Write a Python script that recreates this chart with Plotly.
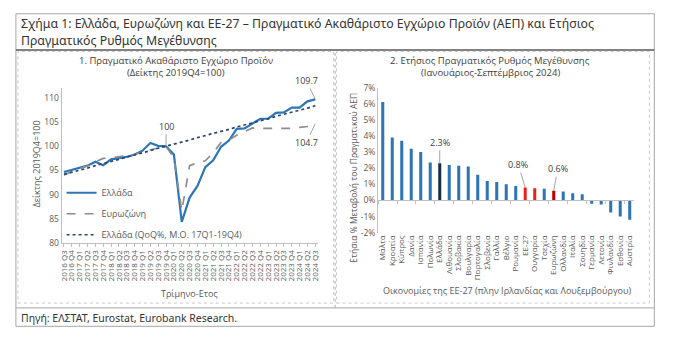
import plotly.graph_objects as go

# ---------------- data ----------------
quarters = ["2016 Q3", "2016 Q4", "2017 Q1", "2017 Q2", "2017 Q3", "2017 Q4",
            "2018 Q1", "2018 Q2", "2018 Q3", "2018 Q4", "2019 Q1", "2019 Q2",
            "2019 Q3", "2019 Q4", "2020 Q1", "2020 Q2", "2020 Q3", "2020 Q4",
            "2021 Q1", "2021 Q2", "2021 Q3", "2021 Q4", "2022 Q1", "2022 Q2",
            "2022 Q3", "2022 Q4", "2023 Q1", "2023 Q2", "2023 Q3", "2023 Q4",
            "2024 Q1", "2024 Q2", "2024 Q3"]
greece = [94.7, 95.1, 95.5, 96.0, 96.8, 96.1, 97.3, 97.6, 97.8, 98.3, 99.1, 100.7,
          100.1, 100.0, 98.3, 84.4, 89.4, 91.8, 95.7, 97.1, 99.9, 101.2, 103.6, 103.7,
          104.7, 105.7, 105.7, 106.9, 107.0, 108.0, 108.0, 109.3, 109.7]
eurozone = [94.1, 94.7, 95.3, 96.0, 96.8, 97.5, 97.6, 97.8, 98.0, 98.3, 98.9, 99.3,
            99.6, 100.0, 97.6, 86.7, 96.0, 96.6, 97.0, 98.7, 100.8, 101.3, 102.3, 103.0,
            103.8, 103.7, 103.7, 103.6, 103.6, 103.7, 103.9, 104.1, 104.7]
greece_trend = [94.2, 94.6, 95.1, 95.5, 96.0, 96.4, 96.9, 97.3, 97.8, 98.2, 98.7, 99.1,
                99.6, 100.0, 100.4, 100.9, 101.3, 101.8, 102.2, 102.6, 103.1, 103.5,
                104.0, 104.4, 104.8, 105.3, 105.7, 106.2, 106.6, 107.0, 107.5, 107.9, 108.4]

countries = ["Μάλτα", "Κροατία", "Κύπρος", "Δανία", "Ισπανία", "Πολωνία", "Ελλάδα",
             "Λιθουανία", "Σλοβακία", "Βουλγαρία", "Πορτογαλία", "Σλοβενία", "Γαλλία",
             "Βέλγιο", "Ρουμανία", "ΕΕ-27", "Ουγγαρία", "Τσεχία", "Ευρωζώνη",
             "Ολλανδία", "Ιταλία", "Σουηδία", "Γερμανία", "Λετονία", "Φινλανδία",
             "Εσθονία", "Αυστρία"]
growth = [6.1, 3.9, 3.7, 3.2, 3.0, 2.35, 2.3, 2.2, 2.15, 2.1, 1.6, 1.2, 1.15,
          1.0, 0.9, 0.8, 0.75, 0.72, 0.6, 0.55, 0.45, 0.38, -0.2, -0.25, -0.75,
          -1.0, -1.2]

# ---------------- styling ----------------
W, H = 700, 340
FONT = "Open Sans"
BLUE = "#2e75b6"
NAVY = "#1b2a47"
RED = "#e8211d"
DRED = "#c00000"
GRAY_TXT = "#595959"
AXIS = "#bfbfbf"

def px(x):
    return x / W

def py(y):
    return (H - y) / H

bar_colors = []
for c in countries:
    if c == "Ελλάδα":
        bar_colors.append(NAVY)
    elif c == "Ευρωζώνη":
        bar_colors.append(DRED)
    elif c in ("ΕΕ-27", "Ουγγαρία"):
        bar_colors.append(RED)
    else:
        bar_colors.append(BLUE)

fig = go.Figure()

fig.add_trace(go.Scatter(x=quarters, y=greece, name="Ελλάδα", mode="lines",
                         line=dict(color=BLUE, width=2.2), legendgroup="a",
                         xaxis="x", yaxis="y"))
fig.add_trace(go.Scatter(x=quarters, y=eurozone, name="Ευρωζώνη", mode="lines",
                         line=dict(color="#8c8c8c", width=1.7, dash="dash"),
                         legendgroup="b", xaxis="x", yaxis="y"))
fig.add_trace(go.Scatter(x=quarters, y=greece_trend, name="Ελλάδα (QoQ%, M.O. 17Q1-19Q4)",
                         mode="lines", line=dict(color="#2b4470", width=1.7, dash="dot"),
                         legendgroup="c", xaxis="x", yaxis="y"))

fig.add_trace(go.Bar(x=countries, y=growth, marker=dict(color=bar_colors, line=dict(width=0)),
                     showlegend=False, xaxis="x2", yaxis="y2"))
# helper invisible trace so the zero-line axis draws its tick marks
fig.add_trace(go.Scatter(x=countries, y=[0] * len(countries), mode="markers",
                         marker=dict(opacity=0), showlegend=False, hoverinfo="skip",
                         xaxis="x3", yaxis="y2"))

# domains (pixel based)
x1_dom = [px(58), px(316.7)]
y1_dom = [py(245), py(85)]
x2_dom = [px(376.7), px(635)]
y2_dom = [py(234.3), py(84.3)]
y2_range = [-2, 7]
zero_pos = y2_dom[0] + (0 - y2_range[0]) / (y2_range[1] - y2_range[0]) * (y2_dom[1] - y2_dom[0])

tickfont = dict(family=FONT, size=8.5, color=GRAY_TXT)
xtickfont = dict(family=FONT, size=8, color=GRAY_TXT)

fig.update_layout(
    width=W, height=H, margin=dict(l=0, r=0, t=0, b=0),
    paper_bgcolor="white", plot_bgcolor="rgba(0,0,0,0)",
    font=dict(family=FONT, color=GRAY_TXT),
    bargap=0.68,
    xaxis=dict(domain=x1_dom, anchor="y", type="category", range=[-0.3, 32.4],
               tickmode="array", tickvals=quarters,
               tickangle=-90, tickfont=xtickfont, showline=True, linecolor=AXIS,
               ticks="outside", ticklen=3, tickcolor=AXIS, showgrid=False, zeroline=False),
    yaxis=dict(domain=y1_dom, anchor="x", range=[80, 112], tickvals=[80, 85, 90, 95, 100, 105, 110],
               tickfont=tickfont, showline=True, linecolor=AXIS, ticks="",
               showgrid=False, zeroline=False),
    xaxis2=dict(domain=x2_dom, anchor="y2", type="category", range=[-0.5, 26.5],
                tickmode="array", tickvals=countries,
                tickangle=-90, tickfont=xtickfont,
                showline=False, ticks="", showgrid=False, zeroline=False),
    xaxis3=dict(domain=x2_dom, anchor="free", overlaying="x2", position=zero_pos,
                type="category", range=[-0.5, 26.5], showticklabels=False,
                showline=True, linecolor=AXIS, ticks="outside", ticklen=3,
                tickcolor=AXIS, tickson="boundaries", showgrid=False, zeroline=False),
    yaxis2=dict(domain=y2_dom, anchor="x2", range=y2_range, tickvals=list(range(-2, 8)),
                ticktext=[f"{v}%" for v in range(-2, 8)], tickfont=tickfont,
                showline=True, linecolor=AXIS, ticks="", showgrid=False, zeroline=False),
    legend=dict(x=px(58), y=py(178), xanchor="left", yanchor="top",
                bgcolor="rgba(0,0,0,0)", font=dict(family=FONT, size=9, color=GRAY_TXT),
                tracegroupgap=2, itemwidth=30),
    showlegend=True,
)

anns = []
# main title
anns.append(dict(text="Σχήμα 1: Ελλάδα, Ευρωζώνη και ΕΕ-27 – Πραγματικό Ακαθάριστο Εγχώριο Προϊόν (ΑΕΠ) και Ετήσιος",
                 x=px(15), y=py(18), xanchor="left", yanchor="middle",
                 font=dict(family="Noto Sans", size=12.3, color="#333333")))
anns.append(dict(text="Πραγματικός Ρυθμός Μεγέθυνσης",
                 x=px(15), y=py(36), xanchor="left", yanchor="middle",
                 font=dict(family="Noto Sans", size=12.3, color="#333333")))
# source
anns.append(dict(text="Πηγή: ΕΛΣΤΑΤ, Eurostat, Eurobank Research.",
                 x=px(15), y=py(322), xanchor="left", yanchor="middle",
                 font=dict(family="Noto Sans", size=10.5, color="#333333")))
# chart titles
for t, x, y in [("1. Πραγματικό Ακαθάριστο Εγχώριο Προϊόν", 173, 56),
                ("(Δείκτης 2019Q4=100)", 173, 69),
                ("2. Ετήσιος Πραγματικός Ρυθμός Μεγέθυνσης", 490, 56),
                ("(Ιανουάριος-Σεπτέμβριος 2024)", 490, 69)]:
    anns.append(dict(text=t, x=px(x), y=py(y), xanchor="center", yanchor="middle",
                     font=dict(family=FONT, size=9.5, color="#404040")))
# axis titles
anns.append(dict(text="Δείκτης 2019Q4=100", x=px(33), y=py(163), textangle=-90,
                 xanchor="center", yanchor="middle", font=dict(family=FONT, size=9, color=GRAY_TXT)))
anns.append(dict(text="Τρίμηνο-Ετος", x=px(187), y=py(297), xanchor="center", yanchor="middle",
                 font=dict(family=FONT, size=9, color=GRAY_TXT)))
anns.append(dict(text="Ετήσια % Μεταβολή του Πραγματικού ΑΕΠ", x=px(352), y=py(177), textangle=-90,
                 xanchor="center", yanchor="middle", font=dict(family=FONT, size=8.5, color=GRAY_TXT)))
anns.append(dict(text="Οικονομίες της ΕΕ-27 (πλην Ιρλανδίας και Λουξεμβούργου)", x=px(507), y=py(294),
                 xanchor="center", yanchor="middle", font=dict(family=FONT, size=9, color=GRAY_TXT)))

for a in anns:
    a.update(xref="paper", yref="paper", showarrow=False)

# data labels with leader lines
lab = dict(showarrow=True, arrowhead=0, arrowwidth=0.8, arrowcolor="#8c8c8c",
           font=dict(family=FONT, size=9, color="#404040"), standoff=0)
idx13 = quarters.index("2019 Q4")
anns.append(dict(x=quarters[idx13], y=greece[idx13], xref="x", yref="y",
                 text=f"{greece[idx13]:.0f}", ax=0, ay=-20, **lab))
anns.append(dict(x=quarters[-1], y=greece[-1], xref="x", yref="y",
                 text=f"{greece[-1]:.1f}", ax=-9, ay=-19, **lab))
anns.append(dict(x=quarters[-1], y=eurozone[-1], xref="x", yref="y",
                 text=f"{eurozone[-1]:.1f}", ax=-9, ay=19, **lab))
for c, axo, ayo in [("Ελλάδα", 0, -21), ("ΕΕ-27", -7, -23), ("Ευρωζώνη", 4, -22)]:
    i = countries.index(c)
    anns.append(dict(x=c, y=growth[i], xref="x2", yref="y2",
                     text=f"{growth[i]:.1f}%", ax=axo, ay=ayo, **lab))

fig.update_layout(annotations=anns)

# frames
shapes = [
    dict(type="rect", xref="paper", yref="paper", x0=px(12), x1=px(655), y0=py(331), y1=py(8),
         line=dict(color="#a6a6a6", width=1)),
    dict(type="line", xref="paper", yref="paper", x0=px(12), x1=px(655), y0=py(45.5), y1=py(45.5),
         line=dict(color="#595959", width=1.5)),
    dict(type="line", xref="paper", yref="paper", x0=px(12), x1=px(655), y0=py(312), y1=py(312),
         line=dict(color="#a6a6a6", width=1)),
    dict(type="rect", xref="paper", yref="paper", x0=px(14), x1=px(332), y0=py(307), y1=py(47),
         line=dict(color="#c8c8c8", width=1, dash="dot")),
    dict(type="rect", xref="paper", yref="paper", x0=px(335), x1=px(650), y0=py(307), y1=py(47),
         line=dict(color="#c8c8c8", width=1, dash="dot")),
    dict(type="line", xref="paper", yref="paper", x0=px(333.5), x1=px(333.5), y0=py(312), y1=py(46),
         line=dict(color="#b0b0b0", width=1, dash="dot")),
]
fig.update_layout(shapes=shapes)

fig.write_html("out.html")
